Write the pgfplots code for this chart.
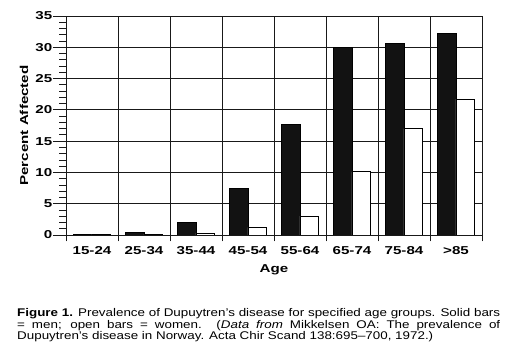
\documentclass[border=0pt]{standalone}
\usepackage{fontspec}
\setmainfont{Liberation Sans}[FakeStretch=1.2]
\newfontfamily\lbl{Liberation Sans Bold}[FakeStretch=1.32]
\usepackage{pgfplots}
\pgfplotsset{compat=1.18}
\begin{document}
\begin{tikzpicture}
\path[use as bounding box] (0,0) rectangle (510bp,359bp);
\begin{axis}[
  at={(66bp,124bp)}, anchor=south west,
  scale only axis, width=416bp, height=219bp,
  xmin=-0.5, xmax=7.5, ymin=0, ymax=35,
  ytick={0,5,...,35},
  minor y tick num=4,
  xtick={0,...,7},
  xticklabels={15-24,25-34,35-44,45-54,55-64,65-74,75-84,>85},
  minor xtick={-0.5,0.5,...,7.5},
  major x tick style={draw=none},
  xtick pos=lower, ytick pos=left,
  tick align=outside,
  major tick length=13bp,
  minor tick length=6.5bp,
  ymajorgrids=true, xminorgrids=true,
  grid style={black!90, line width=0.9bp},
  axis line style={black!90, line width=0.9bp},
  every tick/.style={black!90, line width=0.8bp},
  tick label style={font=\lbl\fontsize{11.5}{12}\selectfont},
  /pgf/number format/assume math mode=true,
  yticklabel style={inner sep=0.5bp},
  xticklabel style={yshift=5bp},
  ylabel={Percent Affected}, xlabel={Age},
  every axis y label/.style={at={(axis description cs:0,0.5)}, xshift=-42bp, rotate=90, anchor=center, font=\lbl\fontsize{11.5}{12}\selectfont},
  every axis x label/.style={at={(axis description cs:0.5,0)}, yshift=-35bp, anchor=center, font=\lbl\fontsize{11.5}{12}\selectfont},
  ybar, bar width=18.5bp,
]
\addplot[fill=black!93, draw=black, line width=0.6bp, bar shift=-9.25bp] coordinates {
(0,0.15) (1,0.4) (2,2.0) (3,7.5) (4,17.7) (5,30.0) (6,30.6) (7,32.2)};
\addplot[fill=white, draw=black, line width=0.8bp, bar shift=9.25bp] coordinates {
(0,0.1) (1,0.1) (2,0.3) (3,1.2) (4,3.0) (5,10.1) (6,17.0) (7,21.7)};
\end{axis}
\node[anchor=north west, inner sep=0pt, text width=483bp, align=justify,
  font=\fontsize{11.2}{11.5}\selectfont] at (17bp,50.5bp)
  {\textbf{Figure 1.} Prevalence of Dupuytren’s disease for specified age groups. Solid bars\linebreak
  = men; open bars = women. (\textit{Data from} Mikkelsen OA: The prevalence of\linebreak
  Dupuytren’s disease in Norway. Acta Chir Scand 138:695–700, 1972.)};
\end{tikzpicture}
\end{document}
